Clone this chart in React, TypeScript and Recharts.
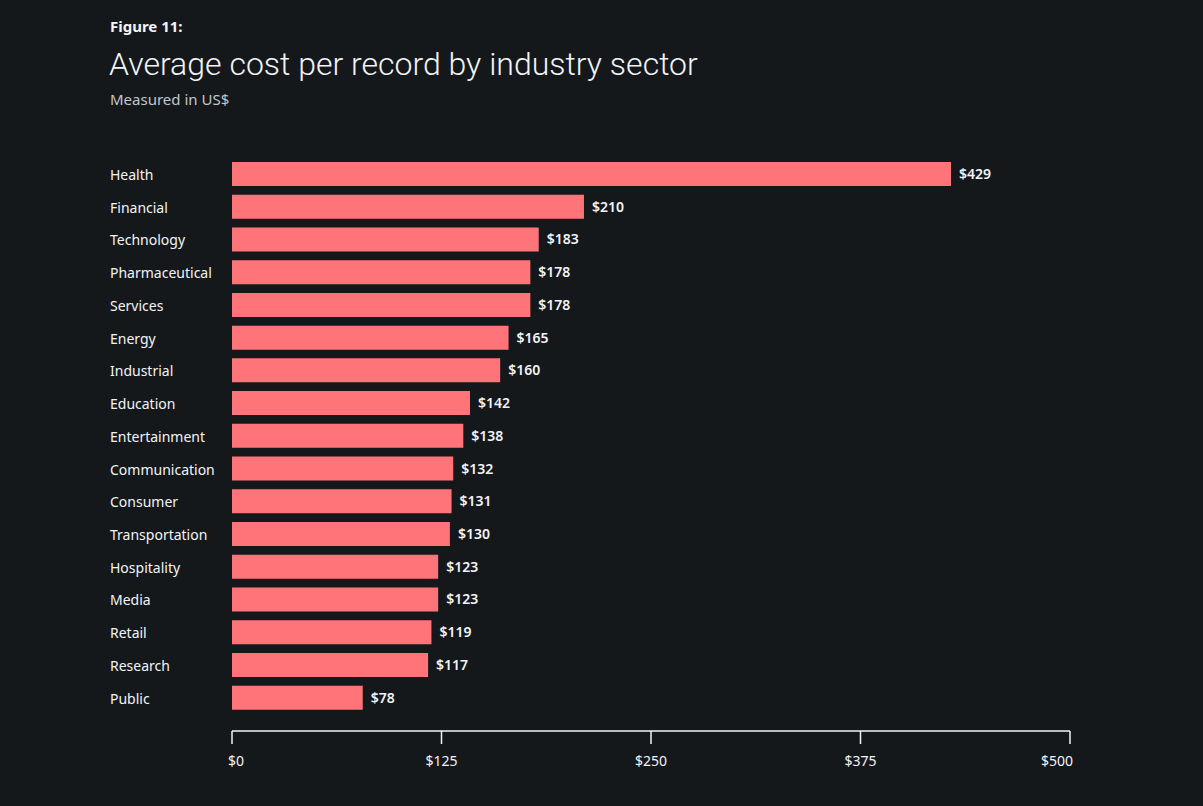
import { BarChart, Bar, XAxis, YAxis, LabelList } from 'recharts';

const sectors = [
  'Health', 'Financial', 'Technology', 'Pharmaceutical', 'Services', 'Energy',
  'Industrial', 'Education', 'Entertainment', 'Communication', 'Consumer',
  'Transportation', 'Hospitality', 'Media', 'Retail', 'Research', 'Public',
];
const costs = [429, 210, 183, 178, 178, 165, 160, 142, 138, 132, 131, 130, 123, 123, 119, 117, 78];
const xTicks = [0, 125, 250, 375, 500];

const data = sectors.map((sector, i) => ({ sector, cost: costs[i] }));

const BG = '#15181b';
const BAR = '#ff7479';
const FONT = '"Noto Sans", "Open Sans", sans-serif';

function SectorTick(props: any) {
  const { y, payload } = props;
  return (
    <text x={110} y={y} dy={6} textAnchor="start" fill="#f2f4f8" fontSize={14} fontFamily={FONT}>
      {payload.value}
    </text>
  );
}

function CostTick(props: any) {
  const { x, y, payload, index } = props;
  let anchor: 'start' | 'middle' | 'end' = 'middle';
  let dx = 0;
  if (index === 0) { anchor = 'start'; dx = -4; }
  if (index === xTicks.length - 1) { anchor = 'end'; dx = 3; }
  return (
    <text x={x + dx} y={y} dy={20} textAnchor={anchor} fill="#f2f4f8" fontSize={14} fontFamily={FONT}>
      ${payload.value}
    </text>
  );
}

export default function App() {
  return (
    <div style={{ position: 'absolute', left: 0, top: 0, width: 1203, height: 806, background: BG, fontFamily: FONT }}>
      <div style={{ position: 'absolute', left: 110, top: 16, color: '#f2f4f8', fontSize: 15, fontWeight: 700 }}>
        Figure 11:
      </div>
      <div style={{ position: 'absolute', left: 109, top: 45, color: '#f2f4f8', fontSize: 32, fontWeight: 300, fontFamily: 'Roboto, sans-serif', whiteSpace: 'nowrap' }}>
        Average cost per record by industry sector
      </div>
      <div style={{ position: 'absolute', left: 110, top: 89, color: '#c1c7cd', fontSize: 15 }}>
        Measured in US$
      </div>
      <div style={{ position: 'absolute', left: 0, top: 0 }}>
        <BarChart
          width={1203}
          height={806}
          data={data}
          layout="vertical"
          margin={{ top: 157.6, right: 133, bottom: 35, left: 0 }}
          barCategoryGap="13.4%"
        >
          <YAxis
            type="category"
            dataKey="sector"
            width={232}
            axisLine={false}
            tickLine={false}
            tick={<SectorTick />}
            padding={{ top: 0, bottom: 17 }}
            interval={0}
          />
          <XAxis
            type="number"
            domain={[0, 500]}
            ticks={xTicks}
            height={40}
            axisLine={{ stroke: '#f2f4f8', strokeWidth: 1.5 }}
            tickLine={{ stroke: '#f2f4f8', strokeWidth: 1.5 }}
            tickSize={13}
            tick={<CostTick />}
          />
          <Bar dataKey="cost" fill={BAR} isAnimationActive={false}>
            <LabelList
              dataKey="cost"
              position="right"
              offset={8}
              formatter={(v: any) => `$${v}`}
              fill="#f2f4f8"
              fontSize={14}
              fontWeight={600}
              fontFamily={FONT}
            />
          </Bar>
        </BarChart>
      </div>
    </div>
  );
}
